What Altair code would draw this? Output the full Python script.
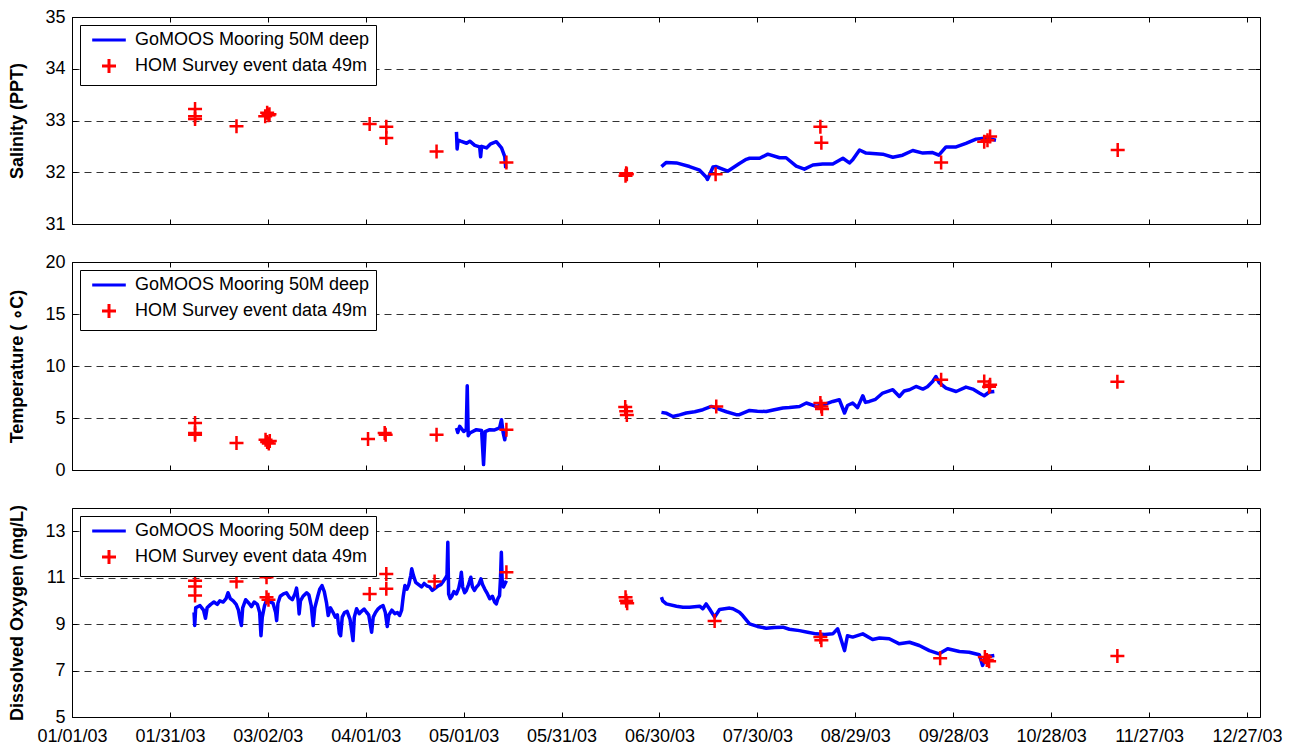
import altair as alt
import pandas as pd

FONT = "Liberation Sans"
MOORING = "GoMOOS Mooring 50M deep"
SURVEY = "HOM Survey event data 49m"

# x positions are days counted from 01/01/03
x_ticks = [0, 30, 60, 90, 120, 150, 180, 210, 240, 270, 300, 330, 360]
x_domain = [0, 364]

# ---------------- Salinity (PPT) ----------------
sal_day_1 = [117.8, 118.0, 118.3, 119.1, 120.9, 121.9, 123.4, 124.9, 125.2, 125.5,
             127.0, 128.3, 130.0, 131.6, 132.6, 132.9]
sal_val_1 = [32.78, 32.45, 32.62, 32.60, 32.56, 32.60, 32.52, 32.49, 32.30, 32.50,
             32.47, 32.55, 32.59, 32.47, 32.30, 32.08]
sal_day_2 = [180.6, 182.1, 185.2, 189.2, 192.3, 194.3, 194.7, 196.4, 197.4, 200.9,
             204.5, 206.6, 207.6, 210.7, 213.2, 216.8, 218.8, 221.9, 224.4, 227.0,
             230.0, 233.1, 236.2, 238.2, 239.2, 241.3, 243.3, 248.4, 251.5, 254.5,
             257.6, 260.7, 263.7, 265.6, 267.8, 270.9, 273.9, 277.0, 280.1, 283.1]
sal_val_2 = [32.11, 32.19, 32.18, 32.11, 32.04, 31.91, 31.86, 32.10, 32.11, 32.02,
             32.17, 32.25, 32.27, 32.27, 32.35, 32.28, 32.28, 32.12, 32.06, 32.14,
             32.16, 32.16, 32.27, 32.18, 32.24, 32.43, 32.37, 32.35, 32.29, 32.33,
             32.42, 32.37, 32.38, 32.33, 32.49, 32.49, 32.56, 32.64, 32.66, 32.62]
sal_survey_day = [37.7, 37.7, 37.7, 50.4, 59.2, 59.8, 60.2, 60.5, 91.2, 96.3, 96.3,
                  111.7, 133.1, 169.6, 169.8, 170.0, 197.2, 229.3, 229.6, 266.3,
                  279.5, 280.5, 281.3, 320.4]
sal_survey_val = [33.22, 33.08, 33.03, 32.89, 33.08, 33.15, 33.10, 33.12, 32.93, 32.88,
                  32.66, 32.40, 32.19, 31.93, 31.98, 31.96, 31.96, 32.88, 32.57, 32.19,
                  32.59, 32.62, 32.69, 32.43]

# ---------------- Temperature (deg C) ----------------
tmp_day_1 = [117.8, 118.2, 118.8, 120.0, 120.8, 121.1, 121.4, 121.9, 123.9, 125.5,
             126.1, 126.6, 128.0, 129.5, 131.0, 131.6, 132.1, 132.6, 132.9]
tmp_val_1 = [4.04, 3.60, 4.20, 3.70, 3.90, 8.10, 3.30, 3.56, 3.88, 3.80,
             0.52, 3.70, 3.88, 3.85, 4.04, 4.84, 3.60, 2.90, 3.72]
tmp_day_2 = [180.6, 182.2, 184.1, 186.2, 188.2, 190.8, 193.3, 195.9, 197.8, 200.5,
             203.5, 204.5, 207.6, 210.0, 212.7, 215.2, 217.8, 219.8, 222.9, 225.0,
             228.0, 230.6, 233.1, 235.1, 236.7, 237.6, 239.2, 240.7, 242.3, 243.1,
             244.3, 246.2, 248.4, 251.5, 253.5, 255.0, 256.6, 258.6, 260.7, 262.1,
             263.7, 264.7, 265.7, 267.8, 270.9, 273.9, 276.0, 278.0, 279.5, 281.1,
             282.6]
tmp_val_2 = [5.54, 5.45, 5.15, 5.30, 5.48, 5.60, 5.80, 6.11, 5.90, 5.60,
             5.32, 5.32, 5.73, 5.65, 5.63, 5.80, 5.96, 6.00, 6.11, 6.44,
             6.11, 6.30, 6.59, 6.76, 5.48, 6.20, 6.44, 6.00, 7.14, 6.50,
             6.59, 6.80, 7.40, 7.72, 7.07, 7.60, 7.72, 8.03, 7.78, 8.00,
             8.51, 8.99, 8.40, 7.88, 7.55, 7.97, 7.78, 7.40, 7.14, 7.50,
             7.55]
tmp_survey_day = [37.7, 37.7, 37.7, 50.4, 59.3, 59.8, 60.3, 60.6, 90.7, 95.8, 96.1,
                  111.7, 133.1, 169.5, 169.8, 170.0, 197.4, 229.3, 229.6, 229.8,
                  266.3, 279.5, 281.3, 281.0, 320.3]
tmp_survey_val = [4.52, 3.56, 3.40, 2.60, 2.92, 2.70, 2.55, 2.80, 2.98, 3.56, 3.40,
                  3.40, 3.88, 6.05, 5.65, 5.30, 6.11, 6.44, 6.10, 5.86,
                  8.68, 8.51, 8.19, 8.00, 8.48]

# ---------------- Dissolved oxygen (mg/L) ----------------
do_day_1 = [37.4, 37.6, 37.9, 38.5, 39.2, 40.3, 40.9, 41.4, 42.5, 43.5,
            44.5, 45.3, 46.3, 47.2, 47.8, 48.5, 49.4, 50.3, 51.0, 51.5,
            51.9, 52.3, 53.2, 54.2, 55.0, 55.8, 56.8, 57.5, 57.9, 58.3,
            59.0, 59.8, 60.8, 61.6, 62.4, 62.7, 63.1, 63.8, 64.8, 65.7,
            66.6, 67.5, 68.3, 68.8, 69.3, 69.6, 70.0, 70.8, 71.9, 72.6,
            73.3, 73.9, 74.4, 75.3, 75.9, 76.6, 77.3, 78.0, 78.5, 79.2,
            80.0, 80.7, 81.3, 81.9, 82.3, 82.8, 83.5, 84.3, 85.2, 85.8,
            86.1, 86.5, 87.2, 88.0, 88.7, 89.5, 90.3, 90.9, 91.5, 91.8,
            92.3, 93.0, 93.8, 94.6, 95.3, 96.0, 96.6, 97.1, 98.0, 98.9,
            99.7, 100.4, 101.0, 101.5, 102.0, 102.6, 103.2, 103.8, 104.1, 104.6,
            105.3, 106.2, 107.1, 107.9, 108.7, 109.6, 110.4, 111.3, 112.2, 113.0,
            113.8, 114.5, 114.9, 115.15, 115.4, 115.9, 116.4, 117.0, 117.8, 118.5,
            119.0, 119.3, 119.7, 120.3, 120.8, 121.5, 122.2, 122.7, 123.3, 123.9,
            124.6, 125.3, 125.8, 126.5, 127.3, 128.0, 128.8, 129.5, 130.0, 130.5,
            131.0, 131.3, 131.55, 131.8, 132.2, 132.7, 133.1]
do_val_1 = [9.50, 8.94, 9.70, 9.75, 9.80, 9.60, 9.25, 9.70, 9.85, 9.95,
            9.85, 10.00, 9.95, 10.10, 10.35, 10.10, 10.00, 9.85, 9.60, 9.20,
            8.94, 9.70, 10.05, 9.90, 9.75, 9.95, 9.85, 9.50, 8.50, 9.30,
            9.80, 10.10, 9.95, 9.90, 9.50, 9.15, 9.90, 10.20, 10.30, 10.35,
            10.15, 10.05, 10.30, 10.55, 10.00, 9.44, 10.00, 10.20, 10.35, 10.25,
            9.80, 8.94, 9.70, 10.20, 10.50, 10.66, 10.40, 9.90, 9.37, 9.70,
            9.50, 9.30, 9.40, 8.60, 8.50, 9.30, 9.50, 9.55, 9.20, 8.60,
            8.29, 9.30, 9.66, 9.45, 9.55, 9.65, 9.50, 9.40, 8.90, 8.65,
            9.30, 9.50, 9.66, 9.75, 9.80, 9.50, 8.90, 9.40, 9.60, 9.45,
            9.50, 9.37, 9.60, 10.20, 10.66, 10.50, 10.70, 11.10, 11.38, 11.10,
            10.80, 10.70, 10.60, 10.75, 10.65, 10.60, 10.45, 10.55, 10.65, 10.70,
            10.85, 11.00, 11.10, 12.52, 10.30, 10.10, 10.20, 10.40, 10.30, 10.55,
            10.90, 11.23, 10.60, 10.35, 10.44, 10.70, 11.02, 10.60, 10.45, 10.59,
            10.70, 10.95, 10.70, 10.50, 10.30, 10.09, 10.20, 9.95, 9.87, 10.10,
            10.23, 11.00, 12.09, 10.90, 10.60, 10.75, 10.87]
do_day_2 = [180.6, 181.0, 182.1, 185.2, 187.2, 189.2, 192.3, 193.3, 194.3, 195.3,
            196.9, 198.4, 201.5, 202.5, 204.5, 205.5, 207.6, 210.0, 212.7, 215.2,
            217.8, 219.8, 222.9, 225.4, 228.0, 230.6, 233.1, 234.6, 236.7, 237.6,
            239.2, 242.3, 245.3, 247.4, 250.4, 253.5, 256.6, 259.6, 262.7, 265.7,
            268.3, 271.9, 274.9, 278.0, 279.0, 279.9, 281.1, 282.6]
do_val_2 = [10.16, 10.00, 9.87, 9.77, 9.73, 9.73, 9.77, 9.66, 9.87, 9.66,
            9.30, 9.63, 9.69, 9.66, 9.51, 9.37, 9.01, 8.90, 8.82, 8.85,
            8.87, 8.78, 8.72, 8.65, 8.58, 8.55, 8.58, 8.80, 7.86, 8.50,
            8.44, 8.58, 8.34, 8.40, 8.37, 8.15, 8.22, 8.08, 7.86, 7.72,
            7.94, 7.82, 7.79, 7.68, 7.22, 7.60, 7.62, 7.65]
do_survey_day = [37.7, 37.7, 37.7, 50.4, 59.6, 59.6, 60.2, 91.2, 96.3, 96.3, 111.1,
                 133.1, 169.6, 169.8, 170.1, 196.9, 229.3, 229.6, 266.0, 279.7,
                 280.3, 281.0, 320.3]
do_survey_val = [10.87, 10.62, 10.23, 10.83, 11.02, 10.16, 10.05, 10.30, 11.16, 10.52,
                 10.83, 11.23, 10.16, 10.01, 9.90, 9.13, 8.44, 8.30, 7.53, 7.58,
                 7.45, 7.40, 7.63]

PLOT_W = 1188
CROSS = "M-1,0H1M0,-1V1"          # plus sign for survey casts
LINE_KEY = "M-2.4,0H2.4"          # long dash used as the mooring key in the legend
MARK_SIZE = 196


def panel(segments, survey_day, survey_val, title, y_domain, y_ticks, height, show_dates):
    rows = []
    for k, (days, vals) in enumerate(segments):
        for d, v in zip(days, vals):
            rows.append({"day": d, "value": v, "seg": k})
    line_df = pd.DataFrame(rows)
    pt_df = pd.DataFrame({"day": survey_day, "value": survey_val, "series": SURVEY})

    y_scale = alt.Scale(domain=y_domain, nice=False, zero=False)
    x_scale = alt.Scale(domain=x_domain, nice=False, zero=False)

    bottom_axis = dict(
        orient="bottom", values=x_ticks, offset=-5, tickSize=5, domain=False,
        grid=False, title=None, labelPadding=10, labelOverlap=False,
        labelFlush=False, labelBound=False,
    )
    if show_dates:
        bottom_axis["labelExpr"] = "timeFormat(datetime(2003, 0, 1 + datum.value), '%m/%d/%y')"
    else:
        bottom_axis["labels"] = False

    line = alt.Chart(line_df).mark_line(
        color="#0000ff", strokeWidth=3.5, strokeJoin="round"
    ).encode(
        x=alt.X("day:Q", scale=x_scale, axis=alt.Axis(**bottom_axis)),
        y=alt.Y("value:Q", scale=y_scale, axis=alt.Axis(
            orient="left", values=y_ticks, offset=-5, tickSize=5, domain=False,
            grid=True, title=title, labelPadding=7, titlePadding=18,
        )),
        detail="seg:N",
    )

    points = alt.Chart(pt_df).mark_point(
        filled=False, strokeWidth=2.5, opacity=1, size=MARK_SIZE
    ).encode(
        x=alt.X("day:Q", scale=x_scale, axis=alt.Axis(
            orient="top", values=x_ticks, offset=-5, tickSize=5, domain=False,
            grid=False, labels=False, title=None,
        )),
        y=alt.Y("value:Q", scale=y_scale, axis=alt.Axis(
            orient="right", values=y_ticks, offset=-5, tickSize=5, domain=False,
            grid=False, labels=False, title=None,
        )),
        color=alt.Color("series:N", scale=alt.Scale(
            domain=[MOORING, SURVEY], range=["#0000ff", "#ff0000"]),
            legend=alt.Legend(
                title=None, orient="top-left", offset=8, fillColor="white",
                strokeColor="black", padding=6, labelFont=FONT, labelFontSize=18,
                labelColor="black", labelLimit=400, labelOffset=17,
                symbolOffset=14, symbolSize=MARK_SIZE,
                symbolStrokeWidth=3, rowPadding=4,
            )),
        shape=alt.Shape("series:N", scale=alt.Scale(
            domain=[MOORING, SURVEY], range=[LINE_KEY, CROSS]), legend=None),
    )

    return alt.layer(line, points).resolve_axis(
        x="independent", y="independent"
    ).properties(width=PLOT_W, height=height)


top = panel([(sal_day_1, sal_val_1), (sal_day_2, sal_val_2)],
            sal_survey_day, sal_survey_val, "Salinity (PPT)",
            [31, 35], [31, 32, 33, 34, 35], 207, False)
mid = panel([(tmp_day_1, tmp_val_1), (tmp_day_2, tmp_val_2)],
            tmp_survey_day, tmp_survey_val, "Temperature ( \u2218C)",
            [0, 20], [0, 5, 10, 15, 20], 208, False)
bot = panel([(do_day_1, do_val_1), (do_day_2, do_val_2)],
            do_survey_day, do_survey_val, "Dissolved Oxygen (mg/L)",
            [5, 14], [5, 7, 9, 11, 13], 209, True)

upper = alt.vconcat(top, mid, spacing=18).resolve_scale(
    y="independent", color="independent", shape="independent"
).resolve_legend(color="independent", shape="independent")

chart = alt.vconcat(upper, bot, spacing=23).resolve_scale(
    y="independent", color="independent", shape="independent"
).resolve_legend(
    color="independent", shape="independent"
).properties(
    background="white",
    padding={"left": 8, "top": 7, "right": 5, "bottom": 5},
).configure_view(
    stroke="black", strokeWidth=1
).configure_axis(
    labelFont=FONT, labelFontSize=18, labelColor="black",
    titleFont=FONT, titleFontSize=18, titleFontWeight="bold", titleColor="black",
    tickColor="black", tickWidth=1,
    gridColor="black", gridDash=[7, 5], gridWidth=1, gridOpacity=0.8,
)

chart.save("out.html", embed_options={"renderer": "svg", "actions": False})
